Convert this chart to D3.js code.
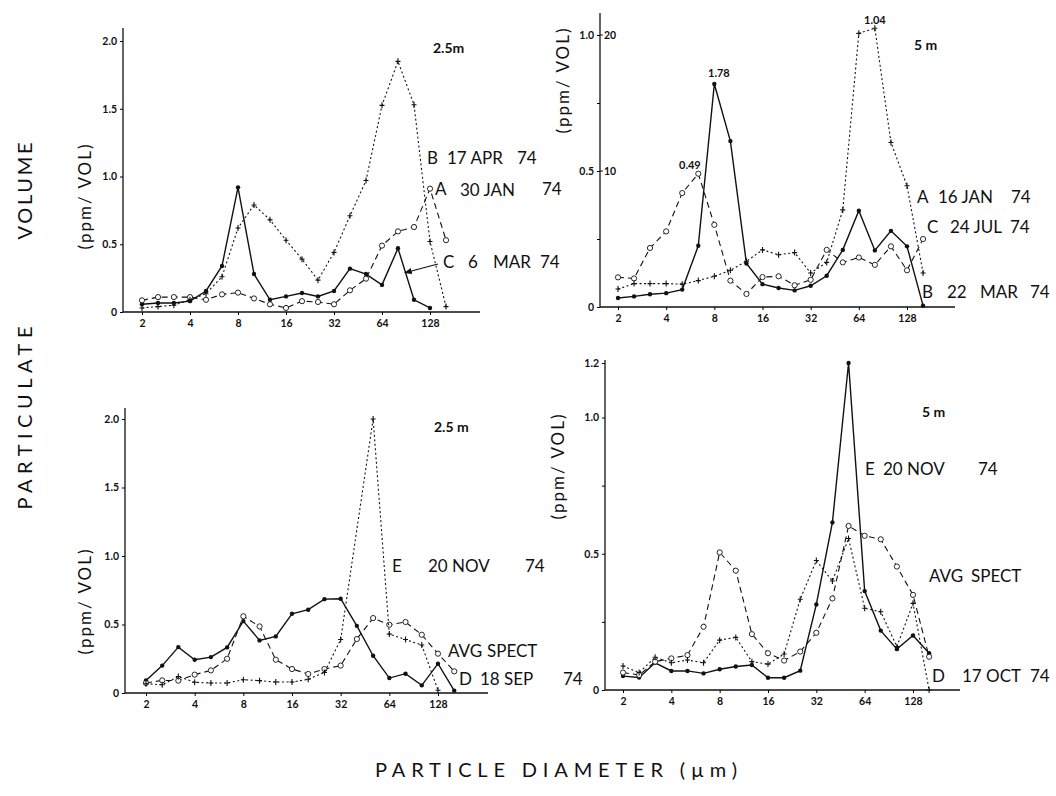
<!DOCTYPE html>
<html>
<head>
<meta charset="utf-8">
<script src="https://cdn.jsdelivr.net/npm/d3@7"></script>
<style>
  body { margin: 0; background: #fff; }
  text { font-family: Lato, "DejaVu Sans", sans-serif; fill: #111; }
</style>
</head>
<body>
<div id="chart"></div>
<script>
// particle diameter classes (um), one third of an octave apart
const diameters = [2, 2.52, 3.17, 4, 5.04, 6.35, 8, 10.08, 12.7, 16, 20.16, 25.4, 32, 40.3, 50.8, 64, 80.6, 101.6, 128, 161.3];
const xTicks = [2, 4, 8, 16, 32, 64, 128];

// top left, 2.5 m
const p1Solid  = [0.057, 0.066, 0.066, 0.08, 0.155, 0.34, 0.92, 0.28, 0.09, 0.115, 0.14, 0.115, 0.155, 0.32, 0.28, 0.20, 0.47, 0.09, 0.03];
const p1Dashed = [0.086, 0.11, 0.11, 0.11, 0.09, 0.13, 0.143, 0.10, 0.057, 0.03, 0.08, 0.074, 0.057, 0.16, 0.246, 0.49, 0.595, 0.627, 0.91, 0.53];
const p1Dotted = [0.03, 0.04, 0.05, 0.09, 0.135, 0.26, 0.62, 0.79, 0.68, 0.53, 0.39, 0.235, 0.44, 0.71, 0.97, 1.525, 1.85, 1.53, 0.52, 0.04];

// top right, 5 m
const p2Solid  = [0.033, 0.039, 0.047, 0.051, 0.064, 0.225, 0.82, 0.61, 0.16, 0.084, 0.07, 0.061, 0.078, 0.115, 0.21, 0.354, 0.208, 0.28, 0.223, 0.005];
const p2Dashed = [0.109, 0.105, 0.217, 0.278, 0.419, 0.49, 0.302, 0.097, 0.048, 0.11, 0.113, 0.08, 0.10, 0.21, 0.164, 0.182, 0.155, 0.223, 0.135, 0.25];
const p2Dotted = [0.066, 0.086, 0.086, 0.086, 0.084, 0.097, 0.113, 0.135, 0.168, 0.21, 0.192, 0.20, 0.125, 0.164, 0.357, 1.006, 1.025, 0.605, 0.446, 0.125];

// bottom left, 2.5 m
const p3Solid  = [0.092, 0.20, 0.335, 0.243, 0.262, 0.333, 0.525, 0.384, 0.413, 0.578, 0.608, 0.685, 0.688, 0.49, 0.272, 0.109, 0.141, 0.056, 0.214, 0.017];
const p3Dashed = [0.073, 0.092, 0.09, 0.134, 0.165, 0.25, 0.56, 0.486, 0.243, 0.175, 0.139, 0.175, 0.20, 0.394, 0.547, 0.498, 0.518, 0.425, 0.287, 0.158];
const p3Dotted = [0.068, 0.06, 0.12, 0.078, 0.073, 0.073, 0.097, 0.09, 0.08, 0.08, 0.10, 0.15, 0.39, null, 2.0, 0.43, 0.39, 0.35, 0.02];

// bottom right, 5 m
const p4Solid  = [0.051, 0.046, 0.10, 0.07, 0.07, 0.061, 0.076, 0.086, 0.092, 0.045, 0.045, 0.071, 0.314, 0.615, 1.2, 0.363, 0.218, 0.15, 0.20, 0.135];
const p4Dashed = [0.064, 0.055, 0.104, 0.116, 0.128, 0.232, 0.505, 0.438, 0.205, 0.135, 0.108, 0.141, 0.21, 0.336, 0.602, 0.566, 0.553, 0.453, 0.349, 0.122];
const p4Dotted = [0.088, 0.064, 0.12, 0.10, 0.11, 0.10, 0.183, 0.193, 0.104, 0.095, 0.132, 0.333, 0.475, 0.40, 0.556, 0.30, 0.287, 0.159, 0.318, 0];

const w = 1056;
const h = 796;

const svg = d3.select("#chart")
  .append("svg")
  .attr("width", w)
  .attr("height", h);

const dashes = { solid: null, dashed: "6,4", dotted: "2,2.5" };

const panels = [
  {
    x2: 142, x128: 430, axisX: 123, axisRight: 480, y0: 312, yTop: 41, yMax: 2, axisTop: 28,
    yTicks: [0, 0.5, 1, 1.5, 2], minor: [],
    series: [[p1Solid, "solid"], [p1Dashed, "dashed"], [p1Dotted, "dotted"]],
    depth: ["2.5m", 433, 53],
    yLabel: [85, 197],
    labels: [["B", 427, 164], ["17 APR", 447, 164], ["74", 517, 164],
             ["A", 435, 195], ["30 JAN", 460, 196], ["74", 542, 195],
             ["C", 443, 268], ["6", 468, 268], ["MAR", 493, 268], ["74", 540, 268]]
  },
  {
    x2: 618, x128: 907, axisX: 600, axisRight: 955, y0: 307, yTop: 35, yMax: 1, axisTop: 13,
    yTicks: [0, 0.25, 0.5, 0.75, 1], minor: [0.25, 0.75],
    rightTicks: [[0.5, "10"], [1, "20"]],
    series: [[p2Solid, "solid"], [p2Dashed, "dashed"], [p2Dotted, "dotted"]],
    depth: ["5 m", 914, 50],
    yLabel: [563, 81],
    peaks: [["1.78", 708, 77], ["0.49", 679, 169], ["1.04", 864, 24]],
    labels: [["A", 917, 203], ["16 JAN", 938, 203], ["74", 1011, 203],
             ["C", 927, 233], ["24 JUL", 950, 233], ["74", 1010, 233],
             ["B", 922, 298], ["22", 947, 298], ["MAR", 980, 298], ["74", 1030, 298]]
  },
  {
    x2: 146, x128: 438, axisX: 125, axisRight: 488, y0: 693, yTop: 419, yMax: 2, axisTop: 408,
    yTicks: [0, 0.5, 1, 1.5, 2], minor: [],
    series: [[p3Solid, "solid"], [p3Dashed, "dashed"], [p3Dotted, "dotted"]],
    depth: ["2.5 m", 434, 432],
    yLabel: [85, 602],
    labels: [["E", 392, 572], ["20 NOV", 428, 572], ["74", 525, 572],
             ["AVG", 448, 657], ["SPECT", 487, 657],
             ["D", 459, 685], ["18 SEP", 480, 685], ["74", 563, 685]]
  },
  {
    x2: 623, x128: 913, axisX: 605, axisRight: 960, y0: 690, yTop: 363, yMax: 1.2, axisTop: 360,
    yTicks: [0, 0.25, 0.5, 0.75, 1, 1.2], minor: [0.25, 0.75],
    series: [[p4Solid, "solid"], [p4Dashed, "dashed"], [p4Dotted, "dotted"]],
    depth: ["5 m", 922, 417],
    yLabel: [558, 467],
    labels: [["E", 865, 475], ["20 NOV", 883, 475], ["74", 978, 475],
             ["AVG", 929, 582], ["SPECT", 971, 582],
             ["D", 932, 682], ["17 OCT", 962, 682], ["74", 1030, 682]]
  }
];

panels.forEach(drawPanel);

// arrow from the "C 6 MAR 74" label to its curve
svg.append("defs").append("marker")
  .attr("id", "arrow")
  .attr("viewBox", "0 0 10 10")
  .attr("refX", 9).attr("refY", 5)
  .attr("markerWidth", 7).attr("markerHeight", 7)
  .attr("orient", "auto")
  .append("path")
  .attr("d", "M0,1 L10,5 L0,9 z")
  .attr("fill", "#111");

const p1x = d3.scaleLog().base(2).domain([2, 128]).range([142, 430]);
const p1y = d3.scaleLinear().domain([0, 2]).range([312, 41]);
svg.append("line")
  .attr("x1", 438).attr("y1", 264)
  .attr("x2", p1x(89)).attr("y2", p1y(0.29))
  .attr("stroke", "#111")
  .attr("stroke-width", 1.1)
  .attr("marker-end", "url(#arrow)");

// big shared titles
svg.append("text")
  .attr("transform", "translate(32,191) rotate(-90)")
  .attr("text-anchor", "middle")
  .attr("textLength", 97)
  .attr("lengthAdjust", "spacing")
  .style("font-size", "20px")
  .text("VOLUME");

svg.append("text")
  .attr("transform", "translate(32,418) rotate(-90)")
  .attr("text-anchor", "middle")
  .attr("textLength", 183)
  .attr("lengthAdjust", "spacing")
  .style("font-size", "20px")
  .text("PARTICULATE");

svg.append("text")
  .attr("x", 375)
  .attr("y", 777)
  .attr("textLength", 362)
  .attr("lengthAdjust", "spacing")
  .style("font-size", "20px")
  .text("PARTICLE DIAMETER  (\u00b5m)");

function drawPanel(cfg) {
  const x = d3.scaleLog().base(2).domain([2, 128]).range([cfg.x2, cfg.x128]);
  const y = d3.scaleLinear().domain([0, cfg.yMax]).range([cfg.y0, cfg.yTop]);
  const g = svg.append("g");

  // axis lines
  g.append("line")
    .attr("x1", cfg.axisX).attr("x2", cfg.axisRight)
    .attr("y1", cfg.y0).attr("y2", cfg.y0)
    .attr("stroke", "#111").attr("stroke-width", 1.3);
  g.append("line")
    .attr("x1", cfg.axisX).attr("x2", cfg.axisX)
    .attr("y1", cfg.y0).attr("y2", cfg.axisTop)
    .attr("stroke", "#111").attr("stroke-width", 1.3);

  const xAxis = d3.axisBottom(x)
    .tickValues(xTicks)
    .tickFormat(d3.format("d"))
    .tickSize(3)
    .tickPadding(5);
  const gx = g.append("g")
    .attr("transform", "translate(0," + cfg.y0 + ")")
    .call(xAxis);
  gx.select(".domain").remove();
  gx.selectAll("text").style("font-size", "10.5px").style("font-weight", "bold");

  const yAxis = d3.axisLeft(y)
    .tickValues(cfg.yTicks)
    .tickFormat(d => (d === 0 ? "0" : cfg.minor.includes(d) ? "" : d.toFixed(1)))
    .tickSize(3)
    .tickPadding(3);
  const gy = g.append("g")
    .attr("transform", "translate(" + cfg.axisX + ",0)")
    .call(yAxis);
  gy.select(".domain").remove();
  gy.selectAll("text").style("font-size", "10.5px").style("font-weight", "bold");

  if (cfg.rightTicks) {
    g.selectAll(".rtick")
      .data(cfg.rightTicks)
      .enter()
      .append("text")
      .attr("x", cfg.axisX + 4)
      .attr("y", d => y(d[0]) + 4)
      .text(d => d[1])
      .style("font-size", "10.5px")
      .style("font-weight", "bold");
    g.selectAll(".rline")
      .data(cfg.rightTicks)
      .enter()
      .append("line")
      .attr("x1", cfg.axisX).attr("x2", cfg.axisX + 3)
      .attr("y1", d => y(d[0])).attr("y2", d => y(d[0]))
      .attr("stroke", "#111");
  }

  const line = d3.line()
    .x(d => x(d.d))
    .y(d => y(d.v));

  cfg.series.forEach(([vals, kind]) => {
    const pts = vals.map((v, i) => ({ d: diameters[i], v: v })).filter(p => p.v !== null);
    g.append("path")
      .datum(pts)
      .attr("d", line)
      .attr("fill", "none")
      .attr("stroke", "#111")
      .attr("stroke-width", kind === "solid" ? 1.4 : 1.1)
      .attr("stroke-dasharray", dashes[kind]);

    if (kind === "solid") {
      g.selectAll(null)
        .data(pts)
        .enter()
        .append("circle")
        .attr("cx", d => x(d.d))
        .attr("cy", d => y(d.v))
        .attr("r", 2.2)
        .attr("fill", "#111");
    } else if (kind === "dashed") {
      g.selectAll(null)
        .data(pts)
        .enter()
        .append("circle")
        .attr("cx", d => x(d.d))
        .attr("cy", d => y(d.v))
        .attr("r", 2.6)
        .attr("fill", "#fff")
        .attr("stroke", "#111")
        .attr("stroke-width", 0.9);
    } else {
      g.selectAll(null)
        .data(pts)
        .enter()
        .append("path")
        .attr("d", d => {
          const cx = x(d.d), cy = y(d.v);
          return "M" + (cx - 2.5) + "," + cy + "H" + (cx + 2.5) + "M" + cx + "," + (cy - 3) + "V" + (cy + 3);
        })
        .attr("stroke", "#111")
        .attr("stroke-width", 1.1);
    }
  });

  // depth tag
  g.append("text")
    .attr("x", cfg.depth[1])
    .attr("y", cfg.depth[2])
    .text(cfg.depth[0])
    .style("font-size", "14px")
    .style("font-weight", "bold");

  // peak values
  if (cfg.peaks) {
    g.selectAll(".peak")
      .data(cfg.peaks)
      .enter()
      .append("text")
      .attr("x", d => d[1])
      .attr("y", d => d[2])
      .text(d => d[0])
      .style("font-size", "11px")
      .style("font-weight", "bold");
  }

  // series names
  g.selectAll(".lab")
    .data(cfg.labels)
    .enter()
    .append("text")
    .attr("x", d => d[1])
    .attr("y", d => d[2])
    .text(d => d[0])
    .style("font-size", "17px");

  // (ppm/ VOL)
  g.append("text")
    .attr("transform", "translate(" + (cfg.yLabel[0] + 6) + "," + cfg.yLabel[1] + ") rotate(-90)")
    .attr("text-anchor", "middle")
    .attr("textLength", 105)
    .attr("lengthAdjust", "spacing")
    .style("font-size", "17px")
    .text("(ppm/ VOL)");
}
</script>
</body>
</html>
